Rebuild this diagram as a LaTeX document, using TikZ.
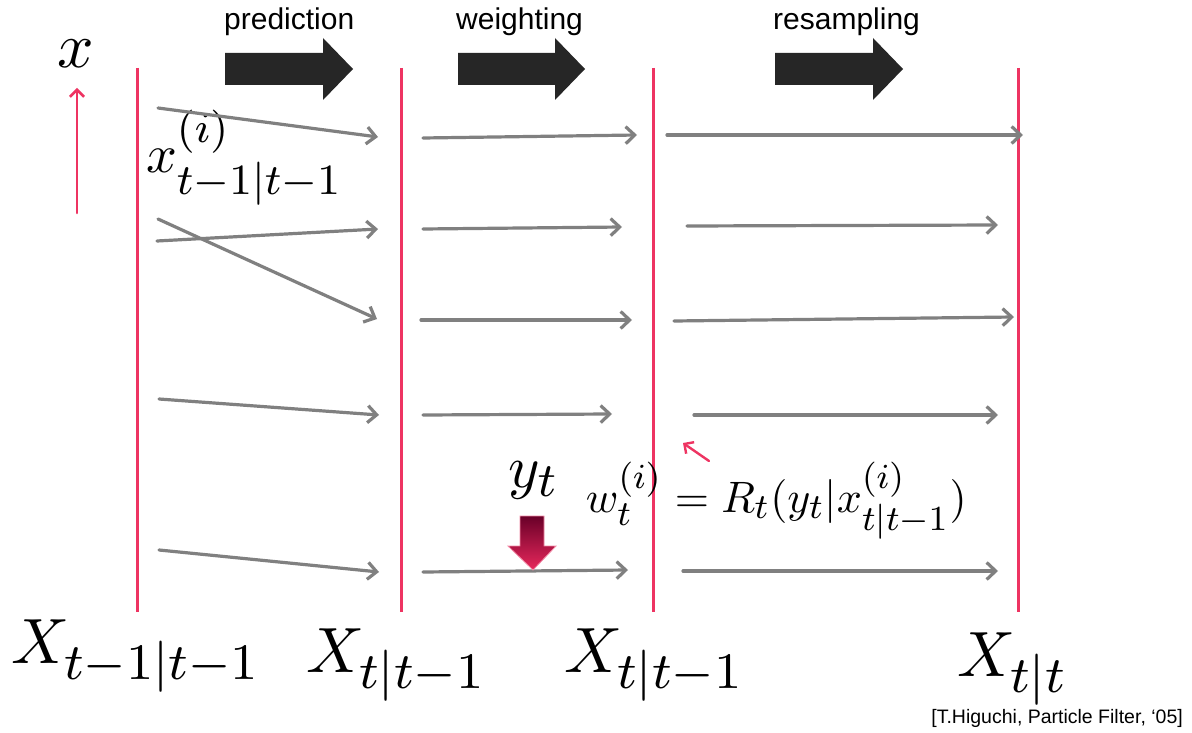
\documentclass[tikz,border=0pt]{standalone}
\usepackage[no-math]{fontspec}
\newfontfamily\arialf{Liberation Sans}
\usetikzlibrary{arrows.meta}
\DeclareMathSizes{10}{10}{8}{6}
\definecolor{pinkred}{RGB}{238,52,98}
\definecolor{arrgray}{RGB}{128,128,128}
\definecolor{blk}{RGB}{38,38,38}
\definecolor{dkmaroon}{RGB}{105,0,40}
\definecolor{hotpink}{RGB}{232,40,92}
\tikzset{
  redline/.style={draw=pinkred, line width=3pt},
  ptarrow/.style={draw=arrgray, line width=3.2pt, line cap=round, -{Straight Barb[length=9pt,width=17pt]}},
  pinkarrow/.style={draw=pinkred, line width=2.6pt, line cap=round, -{Straight Barb[length=7pt,width=14pt]}},
  blockarrow/.style={fill=blk},
  mathlbl/.style={inner sep=0pt, anchor=base west, font=\fontsize{10}{12}\selectfont},
  bigmath/.style={mathlbl, scale=6.4},
  midmath/.style={mathlbl, scale=5.4},
  ymath/.style={mathlbl, scale=6.0},
  eqmath/.style={mathlbl, scale=4.4},
  toplbl/.style={inner sep=0pt, anchor=base west, font=\arialf\fontsize{30}{36}\selectfont},
  citelbl/.style={inner sep=0pt, anchor=base east, font=\arialf\fontsize{19.5}{23}\selectfont}
}
\begin{document}
\begin{tikzpicture}[x=1pt,y=-1pt]
\useasboundingbox (0,0) rectangle (1192,733);
\fill[white] (0,0) rectangle (1192,733);

% vertical lines
\coordinate (L1t) at (137,68);  \coordinate (L1b) at (137,612);
\coordinate (L2t) at (401,68);  \coordinate (L2b) at (401,612);
\coordinate (L3t) at (653,68);  \coordinate (L3b) at (653,612);
\coordinate (L4t) at (1018,68); \coordinate (L4b) at (1018,612);
\draw[redline] (L1t) -- (L1b);
\draw[redline] (L2t) -- (L2b);
\draw[redline] (L3t) -- (L3b);
\draw[redline] (L4t) -- (L4b);

% top labels
\node[toplbl] (tp) at (224,30) {prediction};
\node[toplbl] (tw) at (456,30) {weighting};
\node[toplbl] (tr) at (773,30) {resampling};

% block arrows
\fill[blockarrow] (225,53) -- (323,53) -- (323,38) -- (353,69) -- (323,100) -- (323,85) -- (225,85) -- cycle;
\fill[blockarrow] (458,53) -- (555,53) -- (555,38) -- (585,69) -- (555,100) -- (555,85) -- (458,85) -- cycle;
\fill[blockarrow] (775,53) -- (873,53) -- (873,38) -- (903,69) -- (873,100) -- (873,85) -- (775,85) -- cycle;

% x axis label
\node[bigmath] (xl) at (56,68) {$x$};
\coordinate (ax0) at (77,213); \coordinate (ax1) at (77,88);
\draw[pinkarrow] (ax0) -- (ax1);

% particle label
\node[midmath] (xi) at (145,172) {$x^{(i)}_{t-1|t-1}$};

% prediction arrows
\coordinate (p1) at (158,108); \coordinate (q1) at (378,137);
\coordinate (p2) at (157,241); \coordinate (q2) at (378,229);
\coordinate (p3) at (158,219); \coordinate (q3) at (377,319);
\coordinate (p4) at (159,399); \coordinate (q4) at (379,415);
\coordinate (p5) at (159,550); \coordinate (q5) at (379,572);
\foreach \i in {1,...,5} \draw[ptarrow] (p\i) -- (q\i);

% weighting arrows
\coordinate (w1) at (423,138); \coordinate (v1) at (637,135);
\coordinate (w2) at (423,229); \coordinate (v2) at (622,227);
\coordinate (w3) at (421,320); \coordinate (v3) at (632,320);
\coordinate (w4) at (423,415); \coordinate (v4) at (612,414);
\coordinate (w5) at (423,572); \coordinate (v5) at (628,570);
\foreach \i in {1,...,5} \draw[ptarrow] (w\i) -- (v\i);

% resampling arrows
\coordinate (r1) at (667,135); \coordinate (s1) at (1023,135);
\coordinate (r2) at (687,226); \coordinate (s2) at (998,225);
\coordinate (r3) at (674,321); \coordinate (s3) at (1014,317);
\coordinate (r4) at (694,415); \coordinate (s4) at (998,415);
\coordinate (r5) at (683,571); \coordinate (s5) at (998,571);
\foreach \i in {1,...,5} \draw[ptarrow] (r\i) -- (s\i);

% small pink arrow
\coordinate (sp0) at (709,461); \coordinate (sp1) at (683,443);
\draw[pinkarrow, line width=2.4pt] (sp0) -- (sp1);

% observation
\node[ymath] (yt) at (507,487) {$y_t$};
\shade[top color=dkmaroon, bottom color=hotpink, draw=hotpink!55, line width=0.8pt]
  (520,516) -- (544,516) -- (544,546) -- (556,546) -- (533,570) -- (508,546) -- (520,546) -- cycle;

% weight equation
\node[eqmath] (eq) at (585,512) {$w^{(i)}_t = R_t(y_t|x^{(i)}_{t|t-1})$};

% bottom labels
\node[bigmath] (X1) at (10,663) {$X_{t-1|t-1}$};
\node[bigmath] (X2) at (305,672) {$X_{t|t-1}$};
\node[bigmath] (X3) at (563,672) {$X_{t|t-1}$};
\node[bigmath] (X4) at (956,676) {$X_{t|t}$};

% citation
\node[citelbl] (cite) at (1183,723) {[T.Higuchi, Particle Filter, ‘05]};
\end{tikzpicture}
\end{document}
